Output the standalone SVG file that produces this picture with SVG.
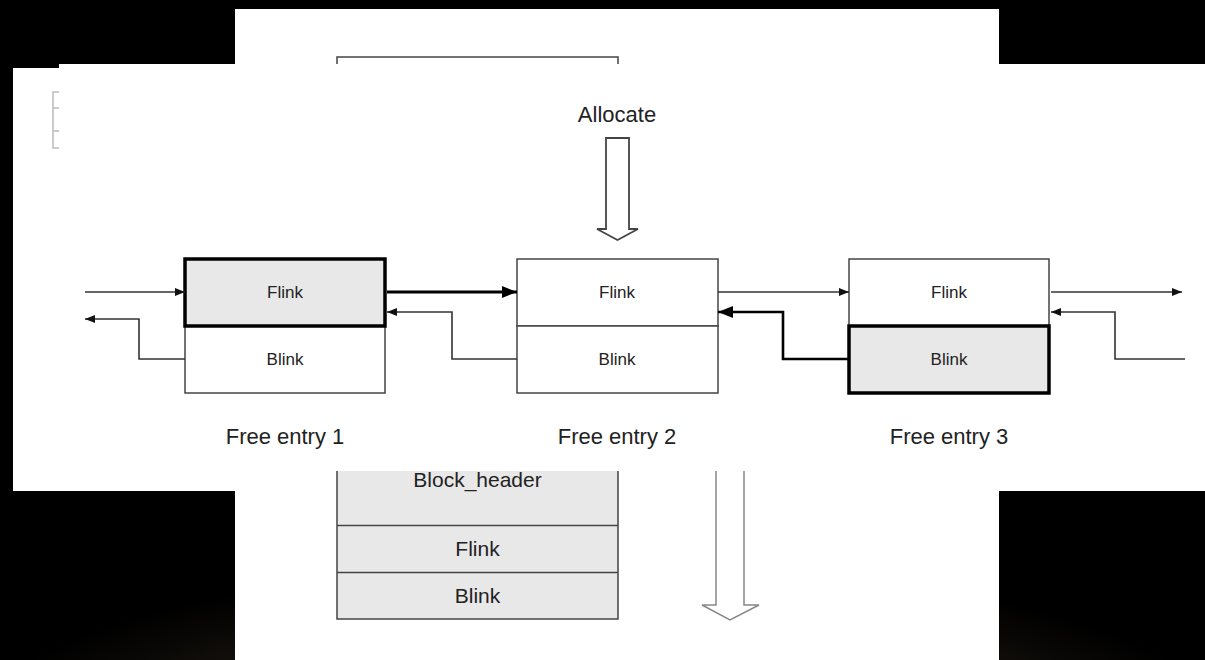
<svg xmlns="http://www.w3.org/2000/svg" width="1205" height="660" viewBox="0 0 1205 660">
<defs>
<radialGradient id="glow" cx="600" cy="720" r="620" gradientUnits="userSpaceOnUse" gradientTransform="translate(0,720) scale(1,0.25) translate(0,-720)">
<stop offset="0" stop-color="#4a3a28"/>
<stop offset="0.5" stop-color="#1e1812"/>
<stop offset="1" stop-color="#000"/>
</radialGradient>
<marker id="ah" markerWidth="10" markerHeight="8" refX="10" refY="4" orient="auto" markerUnits="userSpaceOnUse"><path d="M0,0 L10,4 L0,8 z" fill="#111"/></marker>
<marker id="ahb" markerWidth="15" markerHeight="12" refX="15" refY="6" orient="auto" markerUnits="userSpaceOnUse"><path d="M0,0 L15,6 L0,12 z" fill="#000"/></marker>
</defs>
<style>
.txt{font-family:"Liberation Sans",Arial,sans-serif;fill:#222;text-anchor:middle}
.small{font-size:17px}
.big{font-size:22px}
.thin{fill:#fff;stroke:#444;stroke-width:1.5}
.heavy{fill:#e8e8e8;stroke:#000;stroke-width:3.5}
.conn{fill:none;stroke:#333;stroke-width:1.6;marker-end:url(#ah)}
.connb{fill:none;stroke:#000;stroke-width:3;marker-end:url(#ahb)}
.connb2{fill:none;stroke:#000;stroke-width:2.6;marker-end:url(#ahb)}
.grey{fill:#e8e8e8}
</style>
<rect width="1205" height="660" fill="#000"/>
<rect width="1205" height="660" fill="url(#glow)"/>
<g id="back-panel">
<rect x="235" y="9" width="764" height="651" fill="#fff"/>
<path d="M337,66 V57 H618 V66" fill="none" stroke="#444" stroke-width="1.5"/>
</g>
<g id="front-panel">
<path d="M13,68 H59 V64 H1205 V491 H13 Z" fill="#fff"/>
<path d="M59,92 H53 V148 H59 M53,108 H59 M53,131 H59" fill="none" stroke="#bbb" stroke-width="1.5"/>
</g>
<g id="allocate">
<text class="txt big" x="617" y="122">Allocate</text>
<path d="M606,138 H629 V229 H638 L617.5,240 L597,229 H606 Z" fill="#fff" stroke="#444" stroke-width="1.8"/>
</g>
<g id="entry1">
<rect class="thin" x="185" y="326" width="200" height="67"/>
<rect class="heavy" x="185" y="259" width="200" height="67"/>
<text class="txt small" x="285" y="298">Flink</text>
<text class="txt small" x="285" y="365">Blink</text>
<text class="txt big" x="285" y="444">Free entry 1</text>
</g>
<g id="entry2">
<rect class="thin" x="517" y="259" width="201" height="67"/>
<rect class="thin" x="517" y="326" width="201" height="67"/>
<text class="txt small" x="617" y="298">Flink</text>
<text class="txt small" x="617" y="365">Blink</text>
<text class="txt big" x="617" y="444">Free entry 2</text>
</g>
<g id="entry3">
<rect class="thin" x="849" y="259" width="200" height="67"/>
<rect class="heavy" x="849" y="326" width="200" height="67"/>
<text class="txt small" x="949" y="298">Flink</text>
<text class="txt small" x="949" y="365">Blink</text>
<text class="txt big" x="949" y="444">Free entry 3</text>
</g>
<g id="connectors">
<path class="conn" d="M85,292 H185"/>
<path class="conn" d="M185,359 H139 V319 H85"/>
<path class="connb" d="M387,292 H517"/>
<path class="conn" d="M517,359 H452 V312 H387"/>
<path class="conn" d="M718,292 H849"/>
<path class="connb2" d="M849,359 H783 V312 H718"/>
<path class="conn" d="M1051,292 H1182"/>
<path class="conn" d="M1185,359 H1115 V312 H1051"/>
</g>
<g id="lower-panel">
<rect x="235" y="471" width="764" height="189" fill="#fff"/>
</g>
<g id="block">
<rect class="grey" x="337" y="471" width="281" height="148"/>
<path d="M337,471 V619 H618 V471 M337,525.5 H618 M337,572.5 H618" fill="none" stroke="#444" stroke-width="1.5"/>
<text class="txt" font-size="21" x="477.5" y="487">Block_header</text>
<text class="txt" font-size="21" x="477.5" y="556">Flink</text>
<text class="txt" font-size="21" x="477.5" y="603">Blink</text>
</g>
<g id="down-arrow">
<path d="M716,471 V605 H702 L730,620 L759,605 H744 V471" fill="#fff" stroke="#888" stroke-width="1.5"/>
</g>
</svg>
